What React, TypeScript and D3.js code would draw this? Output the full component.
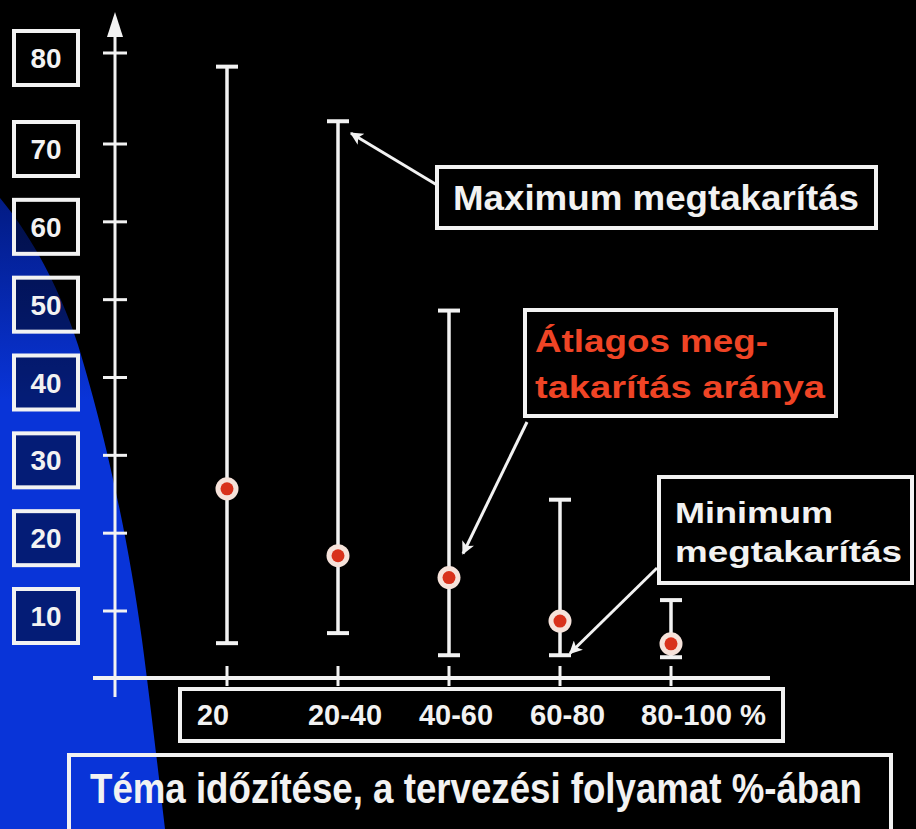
import React from "react";
import * as d3 from "d3";

const categories = ["20", "20-40", "40-60", "60-80", "80-100 %"];
const maxSaving = [78.5, 72.5, 48.6, 24.3, 11.4];
const minSaving = [5.2, 6.7, 3.4, 3.4, 3.1];
const avgSaving = [25.7, 17.1, 14.3, 8.5, 5.1];
const yTicks = [10, 20, 30, 40, 50, 60, 70, 80];
const catLabelWidths = [32, 74, 74, 75, 125];
const xTitle = "Téma időzítése, a tervezési folyamat %-ában";
const maxLabel = "Maximum megtakarítás";
const avgLabel = ["Átlagos meg-", "takarítás aránya"];
const minLabel = ["Minimum", "megtakarítás"];

const W = 916;
const H = 829;
const WHITE = "#f2f2f2";
const RED = "#ef4425";
const FONT = "'Liberation Sans', Arial, sans-serif";

export default function App() {
  const x = d3.scalePoint<string>().domain(categories).range([227, 671]);
  // the slide's axis is spaced by hand: 80 sits higher than the even steps
  const y = d3.scaleLinear().domain([0, 10, 70, 80]).range([678, 611, 144, 53]);
  const axisX = 115;
  const y0 = y(0);

  const arrows = [
    { from: [437, 185], to: [x(categories[1])! + 13, y(maxSaving[1]) + 12] },
    { from: [527, 422], to: [x(categories[2])! + 14, y(avgSaving[2]) - 24] },
    { from: [657, 568], to: [x(categories[3])! + 10, y(minSaving[3]) - 2] },
  ];

  return (
    <svg
      width={W}
      height={H}
      style={{ position: "absolute", left: 0, top: 0, display: "block", background: "#000" }}
      fontFamily={FONT}
      fontWeight="bold"
    >
      <defs>
        <linearGradient id="blueFade" x1="0" y1="190" x2="0" y2="400" gradientUnits="userSpaceOnUse">
          <stop offset="0" stopColor="#021a80" />
          <stop offset="1" stopColor="#0934d8" />
        </linearGradient>
        <marker
          id="ah"
          viewBox="0 0 10 10"
          refX="9"
          refY="5"
          markerUnits="userSpaceOnUse"
          markerWidth="20"
          markerHeight="13"
          orient="auto"
        >
          <path d="M0,0 L10,5 L0,10 L2.5,5 z" fill={WHITE} />
        </marker>
      </defs>

      <rect width={W} height={H} fill="#000" />
      {/* blue swoosh of the slide background */}
      <path
        d="M0,198 C35,240 62,295 78,345 C98,410 126,520 142,640 C150,700 158,770 165,829 L0,829 Z"
        fill="url(#blueFade)"
      />

      {/* y axis */}
      <line x1={axisX} x2={axisX} y1={697} y2={30} stroke={WHITE} strokeWidth={3} />
      <path d={`M${axisX},12 L${axisX + 8},37 L${axisX - 8},37 Z`} fill={WHITE} />
      {yTicks.map((t) => (
        <g key={t}>
          <line x1={axisX - 12} x2={axisX + 12} y1={y(t)} y2={y(t)} stroke={WHITE} strokeWidth={3} />
          <rect
            x={14}
            y={y(t) + 5 - 27}
            width={64}
            height={54}
            fill="#000"
            fillOpacity={0.45}
            stroke={WHITE}
            strokeWidth={4}
          />
          <text
            x={46}
            y={y(t) + 5 + 10}
            textAnchor="middle"
            fill={WHITE}
            fontSize={28}
            textLength={31}
            lengthAdjust="spacingAndGlyphs"
          >
            {t}
          </text>
        </g>
      ))}

      {/* x axis */}
      <line x1={93} x2={770} y1={y0} y2={y0} stroke={WHITE} strokeWidth={4} />
      {categories.map((c) => (
        <line key={c} x1={x(c)} x2={x(c)} y1={666} y2={686} stroke={WHITE} strokeWidth={3} />
      ))}
      <rect x={180} y={689} width={603} height={52} fill="#000" stroke={WHITE} strokeWidth={4} />
      {categories.map((c, i) => (
        <text
          key={c}
          x={x(c)! - 30}
          y={725}
          fill={WHITE}
          fontSize={29}
          textLength={catLabelWidths[i]}
          lengthAdjust="spacingAndGlyphs"
        >
          {c}
        </text>
      ))}
      <rect x={69} y={755} width={822} height={90} fill="none" stroke={WHITE} strokeWidth={4} />
      <text
        transform="translate(90,803) scale(1,1.15)"
        fill={WHITE}
        fontSize={37}
        textLength={772}
        lengthAdjust="spacingAndGlyphs"
      >
        {xTitle}
      </text>

      {/* range bars */}
      {categories.map((c, i) => {
        const cx = x(c)!;
        return (
          <g key={c}>
            <line x1={cx} x2={cx} y1={y(maxSaving[i])} y2={y(minSaving[i])} stroke={WHITE} strokeWidth={3.5} />
            <line x1={cx - 11} x2={cx + 11} y1={y(maxSaving[i])} y2={y(maxSaving[i])} stroke={WHITE} strokeWidth={4} />
            <line x1={cx - 11} x2={cx + 11} y1={y(minSaving[i])} y2={y(minSaving[i])} stroke={WHITE} strokeWidth={4} />
          </g>
        );
      })}
      {categories.map((c, i) => (
        <g key={c}>
          <circle cx={x(c)} cy={y(avgSaving[i])} r={11.5} fill="#f6e2da" />
          <circle cx={x(c)} cy={y(avgSaving[i])} r={6.5} fill="#d8311b" />
        </g>
      ))}

      {/* callouts */}
      {arrows.map((a, i) => (
        <line
          key={i}
          x1={a.from[0]}
          y1={a.from[1]}
          x2={a.to[0]}
          y2={a.to[1]}
          stroke={WHITE}
          strokeWidth={3}
          markerEnd="url(#ah)"
        />
      ))}
      <rect x={437} y={167} width={439} height={61} fill="#000" stroke={WHITE} strokeWidth={4} />
      <text x={453} y={210} fill={WHITE} fontSize={35} textLength={406} lengthAdjust="spacingAndGlyphs">
        {maxLabel}
      </text>

      <rect x={525} y={310} width={311} height={106} fill="#000" stroke={WHITE} strokeWidth={4} />
      <text x={535} y={352} fill={RED} fontSize={31} textLength={233} lengthAdjust="spacingAndGlyphs">
        {avgLabel[0]}
      </text>
      <text x={535} y={398} fill={RED} fontSize={31} textLength={290} lengthAdjust="spacingAndGlyphs">
        {avgLabel[1]}
      </text>

      <rect x={659} y={477} width={253} height={106} fill="#000" stroke={WHITE} strokeWidth={4} />
      <text x={675} y={523} fill={WHITE} fontSize={30} textLength={158} lengthAdjust="spacingAndGlyphs">
        {minLabel[0]}
      </text>
      <text x={675} y={562} fill={WHITE} fontSize={30} textLength={227} lengthAdjust="spacingAndGlyphs">
        {minLabel[1]}
      </text>
    </svg>
  );
}
